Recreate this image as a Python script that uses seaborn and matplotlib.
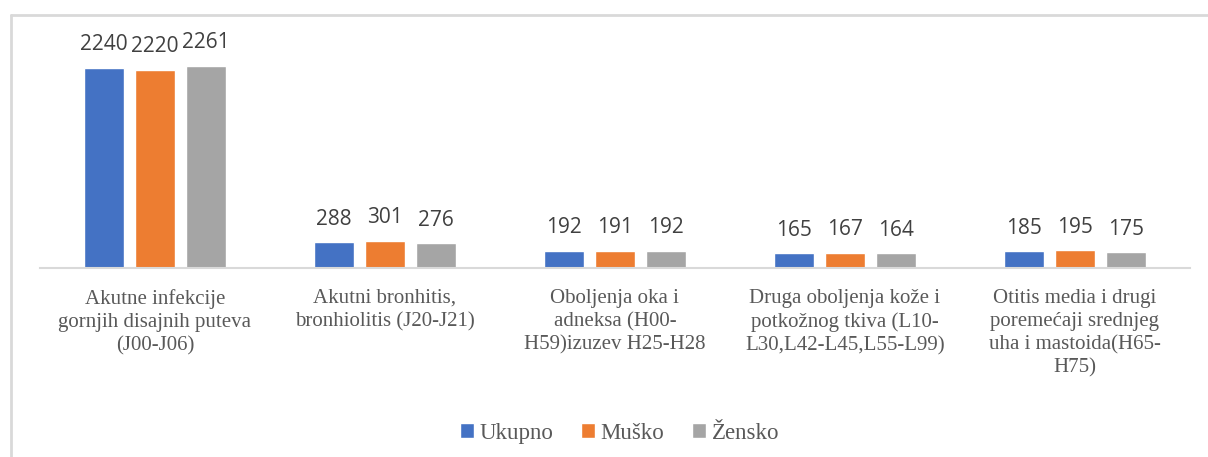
import pandas as pd
import seaborn as sns
import matplotlib.pyplot as plt
from matplotlib.lines import Line2D
from matplotlib.font_manager import FontProperties

# podaci
kategorije = [
    "Akutne infekcije\ngornjih disajnih puteva\n(J00-J06)",
    "Akutni bronhitis,\nbronhiolitis (J20-J21)",
    "Oboljenja oka i\nadneksa (H00-\nH59)izuzev H25-H28",
    "Druga oboljenja kože i\npotkožnog tkiva (L10-\nL30,L42-L45,L55-L99)",
    "Otitis media i drugi\nporemećaji srednjeg\nuha i mastoida(H65-\nH75)",
]
serije = ["Ukupno", "Muško", "Žensko"]
ukupno = [2240, 288, 192, 165, 185]
musko = [2220, 301, 191, 167, 195]
zensko = [2261, 276, 192, 164, 175]
boje = ["#4472C4", "#ED7D31", "#A5A5A5"]

df = pd.DataFrame({
    "Kategorija": kategorije * 3,
    "Spol": [s for s in serije for _ in kategorije],
    "Broj": ukupno + musko + zensko,
})

sns.set_theme(style="white")
plt.rcParams["font.family"] = ["Liberation Serif", "DejaVu Serif"]
serif = FontProperties(family="Liberation Serif", size=15)

fig = plt.figure(figsize=(12.08, 4.57), dpi=100)
ax = fig.add_axes([0.033, 0.414, 0.952, 0.547])

sns.barplot(data=df, x="Kategorija", y="Broj", hue="Spol", order=kategorije,
            hue_order=serije, palette=boje, width=0.667, gap=0.22,
            saturation=1, ax=ax, legend=True)

for c in ax.containers:
    ax.bar_label(c, padding=9, fontsize=15, color="#404040",
                 family=["Open Sans", "DejaVu Sans"])

ax.set_ylim(0, 2800)
ax.set_xlim(-0.5, 4.5)
ax.set_xlabel("")
ax.set_ylabel("")
ax.set_yticks([])
for s in ["top", "left", "right"]:
    ax.spines[s].set_visible(False)
ax.spines["bottom"].set_color("#d9d9d9")
ax.spines["bottom"].set_linewidth(1.5)
ax.tick_params(axis="x", length=0, pad=15)
for t in ax.get_xticklabels():
    t.set_fontproperties(serif)
    t.set_color("#595959")
    t.set_linespacing(1.3)

ax.legend(loc="center", bbox_to_anchor=(0.513, 0.052), bbox_transform=fig.transFigure,
          ncol=3, frameon=False, prop=FontProperties(family="Liberation Serif", size=16.5),
          handlelength=0.6, handleheight=0.6, handletextpad=0.25, columnspacing=1.2,
          labelcolor="#595959")

# okvir (samo gornja i lijeva ivica su vidljive)
fig.add_artist(Line2D([0.0095, 1.0], [0.967, 0.967], transform=fig.transFigure,
                      color="#d9d9d9", linewidth=2))
fig.add_artist(Line2D([0.0095, 0.0095], [0.0, 0.967], transform=fig.transFigure,
                      color="#d9d9d9", linewidth=2))

fig.savefig("out.png", dpi=100)
